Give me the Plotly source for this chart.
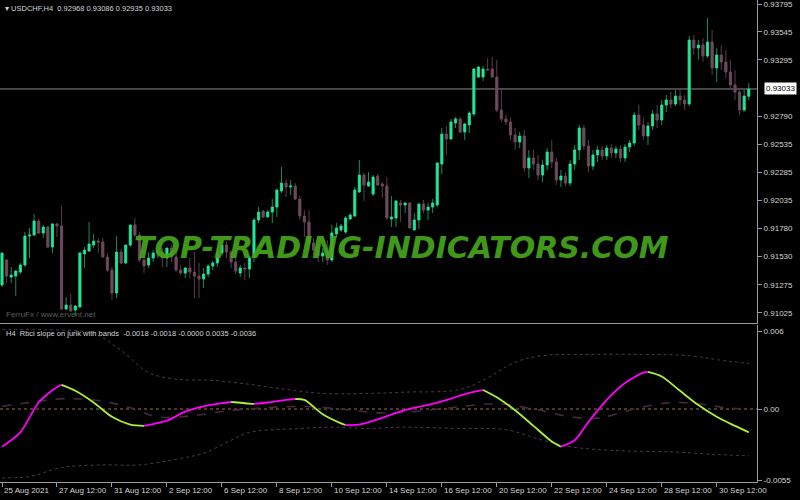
import plotly.graph_objects as go

# ---------------- DATA ----------------
symbol = "USDCHF,H4"

opens = [0.91275,0.91499,0.91346,0.91355,0.91391,0.91454,0.91714,0.91723,0.91849,0.91741,
         0.91795,0.91615,0.91822,0.91804,0.91059,0.91095,0.91050,0.91077,0.91553,0.91579,
         0.91633,0.91669,0.91660,0.91526,0.91409,0.91203,0.91570,0.91472,0.91633,0.91813,
         0.91723,0.91499,0.91454,0.91517,0.91562,0.91570,0.91517,0.91606,0.91526,0.91409,
         0.91382,0.91427,0.91391,0.91355,0.91328,0.91373,0.91445,0.91472,0.91562,0.91633,
         0.91570,0.91481,0.91382,0.91427,0.91418,0.91526,0.91858,0.91938,0.91885,0.91929,
         0.91974,0.92118,0.92189,0.92154,0.92163,0.92046,0.91893,0.91840,0.91651,0.91588,
         0.91535,0.91562,0.91499,0.91732,0.91768,0.91750,0.91867,0.91893,0.92109,0.92261,
         0.92163,0.92091,0.92252,0.92180,0.92163,0.91867,0.91876,0.92010,0.91992,0.92010,
         0.91768,0.91858,0.92001,0.91947,0.91974,0.91992,0.92360,0.92629,0.92584,0.92728,
         0.92764,0.92647,0.92710,0.92808,0.93140,0.93140,0.93212,0.93212,0.93140,0.92844,
         0.92764,0.92737,0.92620,0.92557,0.92611,0.92324,0.92414,0.92360,0.92261,0.92351,
         0.92468,0.92378,0.92216,0.92252,0.92189,0.92360,0.92486,0.92683,0.92521,0.92342,
         0.92441,0.92486,0.92432,0.92503,0.92459,0.92494,0.92414,0.92512,0.92548,0.92799,
         0.92710,0.92611,0.92701,0.92808,0.92755,0.92889,0.92934,0.92898,0.92970,0.92934,
         0.92898,0.93472,0.93400,0.93427,0.93329,0.93454,0.93221,0.93338,0.93275,0.93185,
         0.93069,0.93006,0.92844,0.92968]
highs = [0.91562,0.91508,0.91436,0.91409,0.91472,0.91750,0.91786,0.91911,0.91867,0.91813,
         0.91804,0.91831,0.91831,0.91983,0.91167,0.91194,0.91095,0.91570,0.91615,0.91840,
         0.91732,0.91696,0.91696,0.91562,0.91436,0.91714,0.91597,0.91633,0.91813,0.91876,
         0.91750,0.91526,0.91570,0.91588,0.91633,0.91606,0.91606,0.91633,0.91570,0.91454,
         0.91436,0.91517,0.91570,0.91472,0.91427,0.91463,0.91490,0.91606,0.91678,0.91660,
         0.91588,0.91517,0.91454,0.91472,0.91535,0.91876,0.91974,0.91947,0.91947,0.92046,
         0.92136,0.92333,0.92225,0.92216,0.92189,0.92073,0.91947,0.91947,0.91696,0.91633,
         0.91606,0.91678,0.91813,0.91831,0.91822,0.91893,0.91920,0.92154,0.92396,0.92279,
         0.92288,0.92261,0.92270,0.92198,0.92243,0.92073,0.92037,0.92037,0.92019,0.92019,
         0.91920,0.92010,0.92037,0.92010,0.92046,0.92378,0.92683,0.92701,0.92764,0.92781,
         0.92781,0.92728,0.92835,0.93221,0.93239,0.93239,0.93311,0.93320,0.93293,0.93024,
         0.92799,0.92773,0.92683,0.92647,0.92665,0.92486,0.92486,0.92441,0.92396,0.92503,
         0.92575,0.92414,0.92306,0.92288,0.92396,0.92530,0.92710,0.92710,0.92575,0.92486,
         0.92521,0.92521,0.92530,0.92539,0.92521,0.92530,0.92539,0.92575,0.92826,0.92889,
         0.92773,0.92737,0.92844,0.92889,0.92934,0.92979,0.93006,0.93024,0.93042,0.92979,
         0.93508,0.93517,0.93472,0.93490,0.93670,0.93562,0.93400,0.93427,0.93382,0.93293,
         0.93203,0.93042,0.93024,0.93086]
lows = [0.91257,0.91292,0.91292,0.91176,0.91373,0.91436,0.91517,0.91714,0.91732,0.91696,
        0.91606,0.91562,0.91705,0.91050,0.91050,0.91041,0.90996,0.91077,0.91427,0.91579,
        0.91606,0.91562,0.91526,0.91391,0.91140,0.91158,0.91463,0.91463,0.91615,0.91705,
        0.91481,0.91382,0.91427,0.91481,0.91517,0.91436,0.91436,0.91481,0.91391,0.91364,
        0.91337,0.91337,0.91158,0.91158,0.91248,0.91346,0.91409,0.91436,0.91535,0.91517,
        0.91427,0.91373,0.91346,0.91319,0.91337,0.91481,0.91831,0.91876,0.91885,0.91831,
        0.91885,0.92100,0.92064,0.92082,0.92037,0.91858,0.91705,0.91588,0.91544,0.91481,
        0.91481,0.91454,0.91481,0.91705,0.91750,0.91732,0.91858,0.91885,0.92100,0.92028,
        0.92154,0.92073,0.92163,0.92055,0.91858,0.91795,0.91795,0.91840,0.91920,0.91786,
        0.91768,0.91777,0.91920,0.91858,0.91920,0.91974,0.92270,0.92441,0.92575,0.92683,
        0.92638,0.92575,0.92638,0.92790,0.93131,0.93104,0.93194,0.93140,0.92826,0.92737,
        0.92710,0.92575,0.92486,0.92503,0.92288,0.92234,0.92306,0.92216,0.92198,0.92306,
        0.92324,0.92172,0.92154,0.92163,0.92163,0.92306,0.92396,0.92486,0.92288,0.92306,
        0.92378,0.92396,0.92396,0.92414,0.92414,0.92378,0.92378,0.92468,0.92521,0.92665,
        0.92575,0.92530,0.92665,0.92683,0.92710,0.92826,0.92862,0.92880,0.92889,0.92844,
        0.92880,0.93338,0.93293,0.93275,0.93311,0.93158,0.93095,0.93203,0.93131,0.93024,
        0.92934,0.92799,0.92826,0.92935]
closes = [0.91562,0.91355,0.91364,0.91400,0.91454,0.91714,0.91723,0.91849,0.91741,0.91795,
          0.91615,0.91822,0.91804,0.91059,0.91095,0.91041,0.91086,0.91562,0.91588,0.91642,
          0.91669,0.91660,0.91526,0.91409,0.91203,0.91570,0.91472,0.91633,0.91813,0.91723,
          0.91499,0.91445,0.91517,0.91562,0.91570,0.91517,0.91606,0.91526,0.91409,0.91382,
          0.91427,0.91391,0.91355,0.91328,0.91373,0.91445,0.91472,0.91562,0.91633,0.91570,
          0.91481,0.91400,0.91427,0.91418,0.91517,0.91858,0.91929,0.91885,0.91929,0.91974,
          0.92127,0.92189,0.92154,0.92163,0.92046,0.91893,0.91840,0.91651,0.91588,0.91535,
          0.91562,0.91499,0.91741,0.91786,0.91804,0.91876,0.91902,0.92127,0.92261,0.92172,
          0.92198,0.92243,0.92172,0.92163,0.91876,0.91885,0.92028,0.91992,0.92010,0.91786,
          0.91858,0.92001,0.91947,0.91974,0.92010,0.92369,0.92629,0.92584,0.92737,0.92764,
          0.92647,0.92719,0.92817,0.93212,0.93230,0.93212,0.93203,0.93140,0.92844,0.92764,
          0.92737,0.92620,0.92557,0.92611,0.92324,0.92414,0.92360,0.92261,0.92351,0.92468,
          0.92378,0.92216,0.92252,0.92189,0.92360,0.92486,0.92683,0.92521,0.92342,0.92441,
          0.92486,0.92432,0.92503,0.92459,0.92494,0.92414,0.92512,0.92548,0.92799,0.92710,
          0.92611,0.92701,0.92808,0.92755,0.92889,0.92934,0.92898,0.92970,0.92934,0.92898,
          0.93472,0.93400,0.93427,0.93329,0.93454,0.93221,0.93338,0.93275,0.93185,0.93069,
          0.93006,0.92844,0.92970,0.93033]

# indicator (Rbci slope on jurik with bands), sampled at bar indices
osc_idx = [0,4,8,12,13,16,20,24,28,31,36,40,44,48,50,54,55,58,62,64,66,70,74,75,78,82,86,90,94,98,
           102,105,108,112,116,120,122,125,128,132,136,140,141,144,148,152,156,160,163]
osc_val = [-0.0029,-0.0018,0.0005,0.0017,0.00185,0.0014,0.0005,-0.0006,-0.0012,-0.0013,-0.0009,-0.0002,
           0.0002,0.00045,0.00054,0.00042,0.0004,0.0005,0.0007,0.00077,0.0007,-0.0004,-0.0011,-0.00123,
           -0.0012,-0.0008,-0.0003,0.0001,0.0004,0.0008,0.00125,0.00146,0.0009,-0.0001,-0.0013,-0.0025,
           -0.0029,-0.0024,-0.0010,0.0007,0.0020,0.0028,0.00285,0.0025,0.0014,0.0003,-0.0006,-0.0013,-0.0018]

sig_idx = [0,6,14,22,28,34,42,50,58,66,74,82,90,98,108,116,124,130,138,146,152,158,163]
sig_val = [0.0002,0.0005,0.0008,0.0006,0.0001,-0.0006,-0.0005,-0.0001,0.0001,0.0002,0.0,-0.0003,
           -0.0002,0.0001,0.0004,0.0,-0.0006,-0.0007,0.0,0.0005,0.0004,0.0001,0.0]

up_idx = [0,10,20,26,32,38,46,54,62,70,80,88,100,106,112,118,128,140,150,156,163]
up_val = [0.0061,0.0061,0.0058,0.0045,0.0028,0.0023,0.0022,0.0019,0.0015,0.0012,0.0012,0.0013,
          0.0015,0.0024,0.0036,0.0041,0.0042,0.0042,0.0041,0.0038,0.0035]

lo_idx = [0,6,13,22,30,39,44,50,54,65,72,80,87,100,110,118,124,134,146,156,163]
lo_val = [-0.0053,-0.0052,-0.0045,-0.0043,-0.0043,-0.0038,-0.0034,-0.0024,-0.0018,-0.0015,-0.0014,
          -0.0015,-0.0014,-0.0015,-0.0016,-0.0024,-0.0029,-0.0032,-0.0033,-0.0035,-0.0036]

tick_idx = [0,12,24,36,48,60,72,84,96,108,120,132,144,156]
tick_labels = ["25 Aug 2021","27 Aug 12:00","31 Aug 12:00","2 Sep 12:00","6 Sep 12:00","8 Sep 12:00",
               "10 Sep 12:00","14 Sep 12:00","16 Sep 12:00","20 Sep 12:00","22 Sep 12:00",
               "24 Sep 12:00","28 Sep 12:00","30 Sep 12:00"]

price_ticks = [0.93795,0.93545,0.93295,0.92790,0.92535,0.92285,0.92035,0.91780,0.91530,0.91275,0.91025]
osc_ticks = [0.006,0.0,-0.0055]
osc_tick_text = ["0.006","0.00","-0.0055"]
osc_header_vals = "-0.0018 -0.0018 -0.0000 0.0035 -0.0036"

# ---------------- STYLE ----------------
FONT = "Liberation Sans, Arial, sans-serif"
TXT = "#d4d4d4"
FRAME = "#9a9a9a"
UP_BODY, UP_WICK = "#20e79a", "#168a5c"
DN_BODY, DN_WICK = "#6c4a5c", "#5a3c4c"
XR = [-0.44, 164.8]

idx = list(range(len(closes)))
body_hi = [max(o, c) for o, c in zip(opens, closes)]
body_lo = [min(o, c) for o, c in zip(opens, closes)]

fig = go.Figure()

# wicks
fig.add_trace(go.Candlestick(
    x=idx, open=opens, high=highs, low=lows, close=closes,
    increasing=dict(line=dict(color=UP_WICK, width=1), fillcolor=UP_WICK),
    decreasing=dict(line=dict(color=DN_WICK, width=1), fillcolor=DN_WICK),
    whiskerwidth=0, xaxis="x", yaxis="y", hoverinfo="skip", showlegend=False))
# bodies
fig.add_trace(go.Candlestick(
    x=idx, open=opens, high=body_hi, low=body_lo, close=closes,
    increasing=dict(line=dict(color=UP_BODY, width=0.5), fillcolor=UP_BODY),
    decreasing=dict(line=dict(color=DN_BODY, width=0.5), fillcolor=DN_BODY),
    whiskerwidth=0, xaxis="x", yaxis="y", hoverinfo="skip", showlegend=False))

# bands and signal
fig.add_trace(go.Scatter(x=up_idx, y=up_val, mode="lines", line=dict(color="#4c3a4c", width=1, dash="dot", shape="spline"),
                         xaxis="x2", yaxis="y2", showlegend=False))
fig.add_trace(go.Scatter(x=lo_idx, y=lo_val, mode="lines", line=dict(color="#4c3a4c", width=1, dash="dot", shape="spline"),
                         xaxis="x2", yaxis="y2", showlegend=False))
fig.add_trace(go.Scatter(x=[XR[0], XR[1]], y=[0, 0], mode="lines", line=dict(color="#9a7636", width=1, dash="dot"),
                         xaxis="x2", yaxis="y2", showlegend=False))
fig.add_trace(go.Scatter(x=sig_idx, y=sig_val, mode="lines", line=dict(color="#44283e", width=1.6, dash="dash", shape="spline"),
                         xaxis="x2", yaxis="y2", showlegend=False))

# main oscillator: magenta when rising, green-yellow when falling
runs = []
start = 0
for k in range(1, len(osc_val) - 1):
    d_prev = osc_val[k] >= osc_val[k - 1]
    d_next = osc_val[k + 1] >= osc_val[k]
    if d_prev != d_next:
        runs.append((start, k, d_prev))
        start = k
runs.append((start, len(osc_val) - 1, osc_val[-1] >= osc_val[-2]))
for a, b, rising in runs:
    fig.add_trace(go.Scatter(x=osc_idx[a:b + 1], y=osc_val[a:b + 1], mode="lines",
                             line=dict(color="#ff00ff" if rising else "#adf03a", width=1.8, shape="spline", smoothing=0.8),
                             xaxis="x2", yaxis="y2", showlegend=False))

H_PLOT = 482.0
def py(px):
    return 1 - px / H_PLOT

annotations = [
    dict(xref="paper", yref="paper", x=3 / 800, y=py(2), xanchor="left", yanchor="top", showarrow=False,
         text="▾ %s  %.5f %.5f %.5f %.5f" % (symbol, opens[-1], highs[-1], lows[-1], closes[-1]),
         font=dict(family=FONT, size=7.5, color=TXT)),
    dict(xref="paper", yref="paper", x=4 / 800, y=py(327), xanchor="left", yanchor="top", showarrow=False,
         text="H4  Rbci slope on jurik with bands  " + osc_header_vals,
         font=dict(family=FONT, size=7.5, color=TXT)),
    dict(xref="paper", yref="paper", x=4 / 800, y=py(321), xanchor="left", yanchor="bottom", showarrow=False,
         text="FerruFx / www.ervent.net", font=dict(family=FONT, size=8, color="#5e5e5e")),
    dict(xref="paper", yref="paper", x=401 / 800, y=py(248), xanchor="center", yanchor="middle", showarrow=False,
         text="TOP-TRADING-INDICATORS.COM", opacity=0.92,
         font=dict(family="DejaVu Sans", size=30, color="#45a51c", weight="bold", style="italic")),
    dict(xref="paper", yref="y", x=764 / 800, y=closes[-1], xanchor="left", yanchor="middle", showarrow=False,
         text="%.5f" % closes[-1], bgcolor="#ffffff", borderpad=1,
         font=dict(family=FONT, size=8, color="#000000")),
]
for ti, tl in zip(tick_idx, tick_labels):
    annotations.append(dict(xref="x2", yref="paper", x=ti, xshift=0, y=py(491), xanchor="left", yanchor="middle",
                            showarrow=False, text=tl, font=dict(family=FONT, size=8, color=TXT)))

XDOM = [0, 757 / 800]
fig.update_layout(
    width=800, height=500,
    margin=dict(l=0, r=0, t=0, b=18),
    paper_bgcolor="#000000", plot_bgcolor="#000000",
    showlegend=False, hovermode=False, boxgap=0.35,
    xaxis=dict(domain=XDOM, range=XR, anchor="y", showgrid=False, zeroline=False, showticklabels=False,
               showline=True, linecolor=FRAME, linewidth=1, rangeslider=dict(visible=False), ticks=""),
    xaxis2=dict(domain=XDOM, range=XR, anchor="y2", showgrid=False, zeroline=False, showticklabels=False,
                showline=True, linecolor=FRAME, linewidth=1, ticks="outside", ticklen=4, tickcolor=FRAME,
                tickvals=tick_idx, rangeslider=dict(visible=False)),
    yaxis=dict(domain=[1 - 323 / H_PLOT, 1], range=[0.90934, 0.93831], side="right", anchor="x",
               showgrid=False, zeroline=False, showline=True, linecolor=FRAME, mirror=True,
               ticks="outside", ticklen=4, tickcolor=FRAME, tickvals=price_ticks, ticklabeloverflow="allow",
               ticktext=["%.5f" % v for v in price_ticks], tickfont=dict(family=FONT, size=8, color=TXT)),
    yaxis2=dict(domain=[0, 1 - 325 / H_PLOT], range=[-0.005615, 0.006462], side="right", anchor="x2",
                showgrid=False, zeroline=False, showline=True, linecolor=FRAME, mirror=True,
                ticks="outside", ticklen=4, tickcolor=FRAME, tickvals=osc_ticks, ticktext=osc_tick_text,
                ticklabeloverflow="allow", tickfont=dict(family=FONT, size=8, color=TXT)),
    annotations=annotations,
    shapes=[dict(type="line", xref="paper", yref="y", x0=0, x1=XDOM[1], y0=closes[-1], y1=closes[-1],
                 line=dict(color="#8c8c8c", width=1), layer="below")],
)

fig.write_html("out.html", config={"displayModeBar": False},
               post_script="document.body.style.margin='0px';document.body.style.background='#000';")
